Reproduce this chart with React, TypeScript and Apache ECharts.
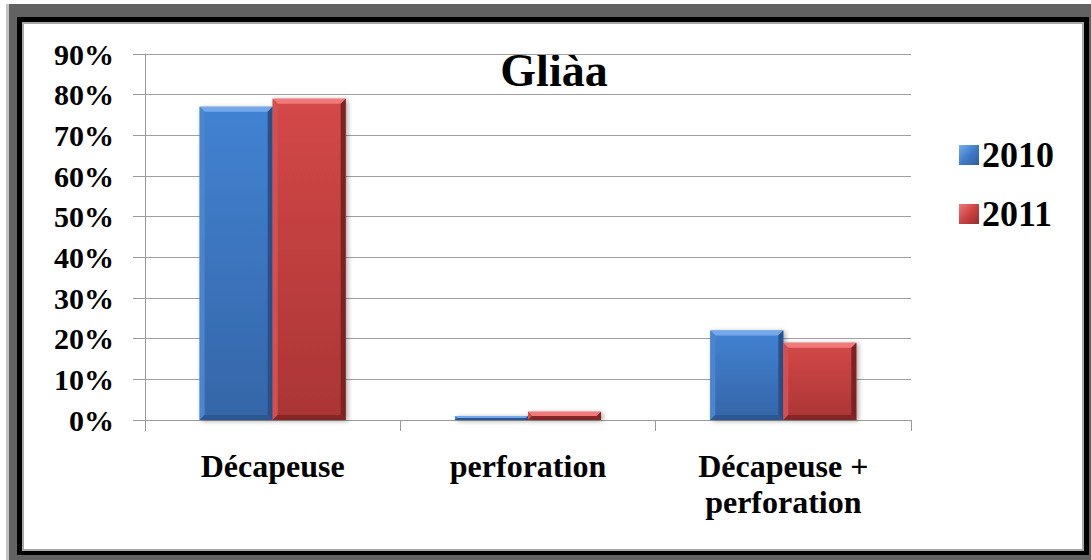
import React, { useEffect, useRef } from "react";
import * as echarts from "echarts";

const categories = ["Décapeuse", "perforation", "Décapeuse + perforation"];
const seriesNames = ["2010", "2011"];
const values2010 = [77, 1, 22];
const values2011 = [79, 2, 19];
const yTicks = { min: 0, max: 90, interval: 10 };
const titleText = "Gliàa";

const FONT = "Liberation Serif, Times New Roman, serif";

type Pal = { top: string; bottom: string; bevTop: string; bevLeft: string; bevRight: string; bevBottom: string; icon: string[] };

const BLUE: Pal = {
  top: "#4282d2",
  bottom: "#3566a8",
  bevTop: "#74a8ea",
  bevLeft: "#4a86d0",
  bevRight: "#27518c",
  bevBottom: "#2c5791",
  icon: ["#7aaeea", "#3f7ccb", "#2d5c9a"],
};
const RED: Pal = {
  top: "#d44848",
  bottom: "#aa3535",
  bevTop: "#f07a7a",
  bevLeft: "#d45050",
  bevRight: "#7c2222",
  bevBottom: "#842626",
  icon: ["#f07a7a", "#cc4242", "#962c2c"],
};

function makeRender(idx: number, pal: Pal) {
  return (_params: any, api: any) => {
    const cat = api.value(0);
    const val = api.value(1);
    const base = api.coord([cat, 0]);
    const tp = api.coord([cat, val]);
    const band = api.size([1, 0])[0];
    const w = band * 0.286;
    const x = idx === 0 ? base[0] - w : base[0];
    const y0 = base[1];
    const y1 = tp[1];
    const h = y0 - y1;
    const b = Math.max(0.5, Math.min(5, h / 2, w / 2));
    const grad = new echarts.graphic.LinearGradient(0, 0, 0, 1, [
      { offset: 0, color: pal.top },
      { offset: 1, color: pal.bottom },
    ]);
    return {
      type: "group",
      children: [
        {
          type: "rect",
          shape: { x, y: y1, width: w, height: h },
          style: {
            fill: grad,
            shadowBlur: 5,
            shadowColor: "rgba(0,0,0,0.35)",
            shadowOffsetX: 2,
            shadowOffsetY: 1,
          },
        },
        {
          type: "polygon",
          shape: { points: [[x, y1], [x + w, y1], [x + w - b, y1 + b], [x + b, y1 + b]] },
          style: { fill: pal.bevTop },
        },
        {
          type: "polygon",
          shape: { points: [[x, y1], [x + b, y1 + b], [x + b, y0 - b], [x, y0]] },
          style: { fill: pal.bevLeft },
        },
        {
          type: "polygon",
          shape: { points: [[x + w, y1], [x + w, y0], [x + w - b, y0 - b], [x + w - b, y1 + b]] },
          style: { fill: pal.bevRight },
        },
        {
          type: "polygon",
          shape: { points: [[x, y0], [x + w, y0], [x + w - b, y0 - b], [x + b, y0 - b]] },
          style: { fill: pal.bevBottom },
        },
      ],
    };
  };
}

function band(outer: number[], inner: number[], color: string) {
  const [L, T, R, B] = outer;
  const [l, t, r, bb] = inner;
  const mk = (x: number, y: number, w: number, h: number) => ({
    type: "rect",
    silent: true,
    shape: { x, y, width: w, height: h },
    style: { fill: color },
  });
  return [
    mk(L, T, R - L, t - T),
    mk(L, bb, R - L, B - bb),
    mk(L, t, l - L, bb - t),
    mk(r, t, R - r, bb - t),
  ];
}

export default function App() {
  const ref = useRef<HTMLDivElement>(null);
  useEffect(() => {
    if (!ref.current) return;
    const chart = echarts.init(ref.current, null, { renderer: "svg" });
    const pals = [BLUE, RED];
    const vals = [values2010, values2011];
    chart.setOption({
      animation: false,
      backgroundColor: "#ffffff",
      textStyle: { fontFamily: FONT },
      graphic: [
        ...band([9, 4, 1091, 560], [17, 17, 1089, 555], "#626262"),
        ...band([17, 17, 1089, 555], [22, 22, 1084, 551], "#000000"),
        ...band([22, 22, 1084, 551], [24, 24, 1082, 549], "#a8a8a8"),
        { type: "rect", silent: true, shape: { x: 6, y: 4, width: 3, height: 556 }, style: { fill: "#c4c4c4" } },
        {
          type: "text",
          x: 554,
          y: 70.5,
          style: {
            text: titleText,
            fill: "#000",
            fontFamily: FONT,
            fontWeight: "bold",
            fontSize: 46,
            align: "center",
            verticalAlign: "middle",
          },
        },
      ],
      legend: {
        orient: "vertical",
        left: 954,
        top: 132,
        itemWidth: 20,
        itemHeight: 20,
        itemGap: 23,
        icon: "rect",
        data: seriesNames,
        textStyle: { fontFamily: FONT, fontWeight: "bold", fontSize: 36, color: "#000", padding: [0, 0, 0, -2] },
      },
      grid: { left: 145, right: 180, top: 54, bottom: 140, containLabel: false },
      xAxis: {
        type: "category",
        data: categories,
        axisLine: { show: true, lineStyle: { color: "#9a9a9a", width: 1 } },
        axisTick: { show: true, length: 11, alignWithLabel: false, lineStyle: { color: "#9a9a9a" } },
        axisLabel: {
          interval: 0,
          margin: 28,
          fontFamily: FONT,
          fontWeight: "bold",
          fontSize: 32,
          lineHeight: 36,
          color: "#000",
          formatter: (v: string) => v.replace(" + ", " +\n"),
        },
      },
      yAxis: {
        type: "value",
        min: yTicks.min,
        max: yTicks.max,
        interval: yTicks.interval,
        axisLine: { show: true, lineStyle: { color: "#9a9a9a", width: 1 } },
        axisTick: { show: true, length: 12, lineStyle: { color: "#9a9a9a" } },
        splitLine: { show: true, lineStyle: { color: "#a0a0a0", width: 1 } },
        axisLabel: {
          margin: 31,
          fontFamily: FONT,
          fontWeight: "bold",
          fontSize: 30,
          color: "#000",
          formatter: "{value}%",
        },
      },
      series: seriesNames.map((name, i) => ({
        name,
        type: "custom",
        renderItem: makeRender(i, pals[i]),
        encode: { x: 0, y: 1 },
        itemStyle: {
          color: new echarts.graphic.LinearGradient(0, 0, 1, 1, [
            { offset: 0, color: pals[i].icon[0] },
            { offset: 0.5, color: pals[i].icon[1] },
            { offset: 1, color: pals[i].icon[2] },
          ]),
        },
        data: vals[i].map((v, k) => [k, v]),
      })),
    });
    return () => chart.dispose();
  }, []);
  return (
    <div
      ref={ref}
      style={{ position: "absolute", left: 0, top: 0, width: 1091, height: 560 }}
    />
  );
}
